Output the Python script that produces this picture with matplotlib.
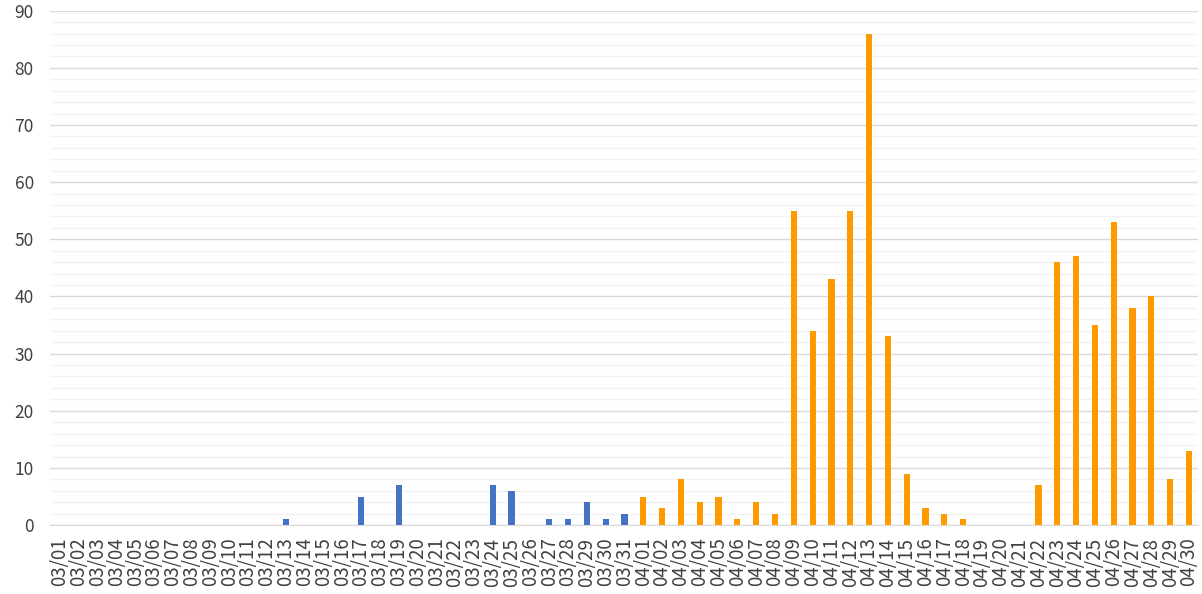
import numpy as np
import matplotlib.pyplot as plt
from matplotlib.ticker import MultipleLocator

plt.rcParams['font.family'] = ['Noto Sans CJK JP', 'DejaVu Sans']

dates = [f"03/{d:02d}" for d in range(1, 32)] + [f"04/{d:02d}" for d in range(1, 31)]

march_counts = [0, 0, 0, 0, 0, 0, 0, 0, 0, 0, 0, 0, 1, 0, 0, 0, 5, 0, 7, 0,
                0, 0, 0, 7, 6, 0, 1, 1, 4, 1, 2]
april_counts = [5, 3, 8, 4, 5, 1, 4, 2, 55, 34, 43, 55, 86, 33, 9, 3, 2, 1, 0, 0,
                0, 7, 46, 47, 35, 53, 38, 40, 8, 13]

counts = march_counts + april_counts
colors = ["#4472C4"] * len(march_counts) + ["#FF9900"] * len(april_counts)

fig = plt.figure(figsize=(12.02, 5.94), dpi=100)
ax = fig.add_axes([0.042, 0.116, 0.955, 0.866])

x = np.arange(len(dates))
ax.bar(x, counts, width=0.33, color=colors, zorder=3)

ax.set_xlim(-0.5, len(dates) - 0.5)
ax.set_ylim(0, 90)
ax.yaxis.set_major_locator(MultipleLocator(10))
ax.yaxis.set_minor_locator(MultipleLocator(2))
ax.grid(axis='y', which='major', color='#D9D9D9', linewidth=1, zorder=0)
ax.grid(axis='y', which='minor', color='#F2F2F2', linewidth=1, zorder=0)

ax.set_xticks(x)
ax.set_xticklabels(dates, rotation=90, fontsize=13.5, color='#404040')
ax.tick_params(axis='y', labelsize=12.5, labelcolor='#404040', pad=12)
ax.tick_params(axis='both', which='both', length=0)
ax.tick_params(axis='x', pad=9)

for side in ['top', 'right', 'left']:
    ax.spines[side].set_visible(False)
ax.spines['bottom'].set_color('#D9D9D9')

fig.savefig("out.png", dpi=100)
